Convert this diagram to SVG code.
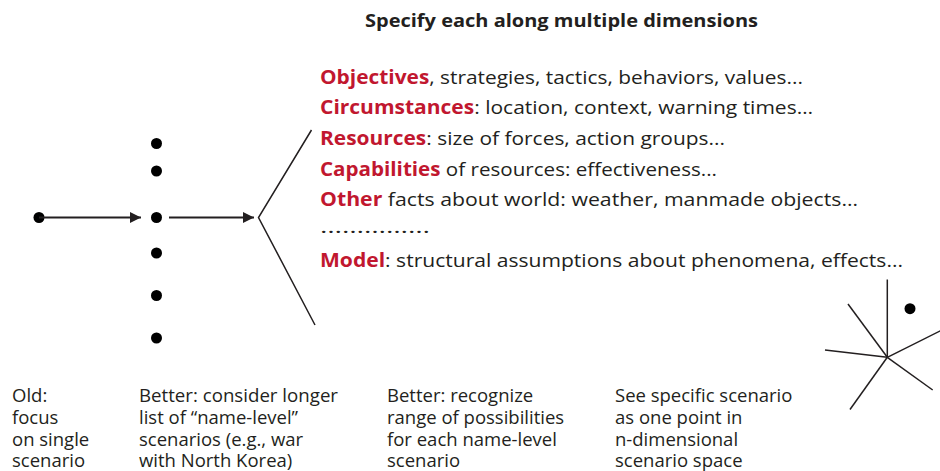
<svg xmlns="http://www.w3.org/2000/svg" width="940" height="471" viewBox="0 0 940 471">
<style>
text{font-family:"Open Sans","Noto Sans","Liberation Sans",sans-serif;fill:#231f20}
.t{font-size:19px}
.r{fill:#c1172f;font-weight:bold}
.b{font-size:18.5px}
.h{font-size:18px;font-weight:bold}
.ln{stroke:#231f20;stroke-width:1.5;fill:none}
.ar{stroke:#231f20;stroke-width:2;fill:none}
.dot{fill:#000}
</style>
<defs>
<marker id="ah" markerWidth="12" markerHeight="12" refX="11" refY="6" orient="auto" markerUnits="userSpaceOnUse">
<path d="M0,0.5 L11,6 L0,11.5 Z" fill="#231f20"/>
</marker>
</defs>
<text class="h" x="365" y="27" textLength="393" lengthAdjust="spacingAndGlyphs">Specify each along multiple dimensions</text>
<g id="dims">
<text class="t" x="320" y="83.5" textLength="483" lengthAdjust="spacingAndGlyphs"><tspan class="r">Objectives</tspan>, strategies, tactics, behaviors, values...</text>
<text class="t" x="320" y="114" textLength="493" lengthAdjust="spacingAndGlyphs"><tspan class="r">Circumstances</tspan>: location, context, warning times…</text>
<text class="t" x="320" y="145" textLength="405" lengthAdjust="spacingAndGlyphs"><tspan class="r">Resources</tspan>: size of forces, action groups...</text>
<text class="t" x="320" y="175.5" textLength="397" lengthAdjust="spacingAndGlyphs"><tspan class="r">Capabilities</tspan> of resources: effectiveness...</text>
<text class="t" x="320" y="206" textLength="538" lengthAdjust="spacingAndGlyphs"><tspan class="r">Other</tspan> facts about world: weather, manmade objects…</text>
<text class="t" x="320" y="233" textLength="110" lengthAdjust="spacingAndGlyphs">……………</text>
<text class="t" x="320" y="267" textLength="583" lengthAdjust="spacingAndGlyphs"><tspan class="r">Model</tspan>: structural assumptions about phenomena, effects...</text>
</g>
<g id="single"><circle class="dot" cx="39" cy="217.5" r="5.5"/></g>
<g id="list">
<circle class="dot" cx="156.5" cy="143.5" r="5.5"/>
<circle class="dot" cx="156.5" cy="171" r="5.5"/>
<circle class="dot" cx="156.5" cy="217.5" r="5.5"/>
<circle class="dot" cx="156.5" cy="253" r="5.5"/>
<circle class="dot" cx="156.5" cy="295.5" r="5.5"/>
<circle class="dot" cx="156.5" cy="338" r="5.5"/>
</g>
<g id="wedge"><polyline class="ln" points="311.5,130 258.5,217.5 315,325"/></g>
<g id="space">
<g class="ln">
<line x1="887.3" y1="357.3" x2="887.3" y2="279.5"/>
<line x1="887.3" y1="357.3" x2="848" y2="304"/>
<line x1="887.3" y1="357.3" x2="825" y2="350"/>
<line x1="887.3" y1="357.3" x2="941" y2="330.5"/>
<line x1="887.3" y1="357.3" x2="932.7" y2="390"/>
<line x1="887.3" y1="357.3" x2="850" y2="409.5"/>
</g>
<circle class="dot" cx="910" cy="308.7" r="5.5"/>
</g>
<g id="connectors">
<line class="ar" x1="39" y1="217.5" x2="141" y2="217.5" marker-end="url(#ah)"/>
<line class="ar" x1="169" y1="217.5" x2="254" y2="217.5" marker-end="url(#ah)"/>
</g>
<g id="captions">
<text class="b" x="12" y="401.5">Old:</text>
<text class="b" x="12" y="423.5">focus</text>
<text class="b" x="12" y="445.5">on single</text>
<text class="b" x="12" y="466.5">scenario</text>
<text class="b" x="139" y="401.5" textLength="199" lengthAdjust="spacingAndGlyphs">Better: consider longer</text>
<text class="b" x="139" y="423.5">list of “name-level”</text>
<text class="b" x="139" y="445.5">scenarios (e.g., war</text>
<text class="b" x="139" y="466.5">with North Korea)</text>
<text class="b" x="387" y="401.5">Better: recognize</text>
<text class="b" x="387" y="423.5">range of possibilities</text>
<text class="b" x="387" y="445.5">for each name-level</text>
<text class="b" x="387" y="466.5">scenario</text>
<text class="b" x="615" y="401.5">See specific scenario</text>
<text class="b" x="615" y="423.5">as one point in</text>
<text class="b" x="615" y="445.5">n-dimensional</text>
<text class="b" x="615" y="466.5">scenario space</text>
</g>
</svg>
